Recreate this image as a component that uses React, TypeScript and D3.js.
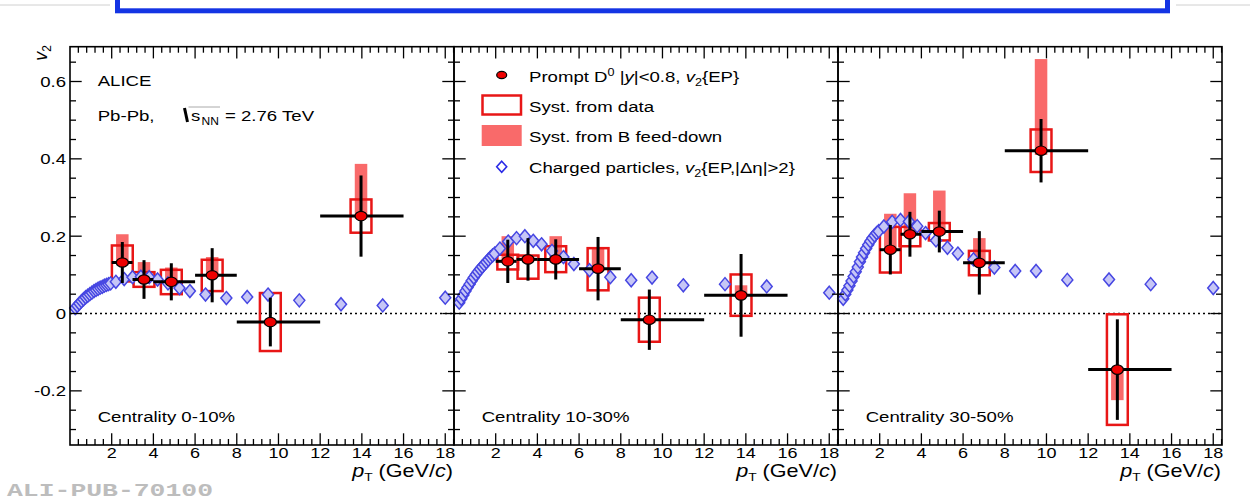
import React from "react";
import * as d3 from "d3";

// ---------------- DATA ----------------
const centralityLabels = ["Centrality 0-10%", "Centrality 10-30%", "Centrality 30-50%"];

const xTickLabels = ["2", "4", "6", "8", "10", "12", "14", "16", "18"];
const yTickLabels = ["-0.2", "0", "0.2", "0.4", "0.6"];

// D0 pT bin edges (same for all centralities)
const d0BinLo = [2, 3, 4, 6, 8, 12];
const d0BinHi = [3, 4, 6, 8, 12, 16];

// 0-10%
const d0Pt_0_10 = [2.51, 3.55, 4.86, 6.82, 9.61, 13.96];
const d0V2_0_10 = [0.132, 0.088, 0.082, 0.099, -0.022, 0.252];
const d0Stat_0_10 = [0.053, 0.05, 0.048, 0.07, 0.063, 0.105];
const d0SystLo_0_10 = [0.083, 0.069, 0.05, 0.058, -0.097, 0.209];
const d0SystHi_0_10 = [0.176, 0.107, 0.113, 0.139, 0.053, 0.295];
const d0FdLo_0_10 = [0.125, 0.085, 0.078, 0.095, -0.03, 0.245];
const d0FdHi_0_10 = [0.205, 0.133, 0.119, 0.146, -0.02, 0.387];

// 10-30%
const d0Pt_10_30 = [2.58, 3.55, 4.88, 6.91, 9.37, 13.77];
const d0V2_10_30 = [0.135, 0.14, 0.14, 0.116, -0.016, 0.047];
const d0Stat_10_30 = [0.056, 0.055, 0.052, 0.082, 0.078, 0.107];
const d0SystLo_10_30 = [0.114, 0.09, 0.107, 0.06, -0.073, -0.006];
const d0SystHi_10_30 = [0.152, 0.15, 0.174, 0.169, 0.041, 0.101];
const d0FdLo_10_30 = [0.13, 0.135, 0.135, 0.11, -0.025, 0.045];
const d0FdHi_10_30 = [0.2, 0.15, 0.2, 0.17, -0.016, 0.073];

// 30-50%
const d0Pt_30_50 = [2.51, 3.45, 4.86, 6.78, 9.74, 13.4];
const d0V2_30_50 = [0.165, 0.205, 0.212, 0.131, 0.421, -0.145];
const d0Stat_30_50 = [0.064, 0.058, 0.054, 0.082, 0.082, 0.13];
const d0SystLo_30_50 = [0.106, 0.174, 0.189, 0.099, 0.366, -0.288];
const d0SystHi_30_50 = [0.224, 0.224, 0.234, 0.162, 0.476, -0.002];
const d0FdLo_30_50 = [0.16, 0.2, 0.205, 0.125, 0.41, -0.224];
const d0FdHi_30_50 = [0.258, 0.311, 0.318, 0.195, 0.658, -0.14];

// Charged particles v2{EP,|Δη|>2}
const chPt = [
  0.25, 0.35, 0.45, 0.55, 0.65, 0.75, 0.85, 0.95, 1.05, 1.15, 1.25, 1.35, 1.45, 1.55, 1.65, 1.75, 1.85, 1.95,
  2.2, 2.6, 3.0, 3.4, 3.8, 4.2, 4.7, 5.25, 5.75, 6.5, 7.5, 8.5, 9.5, 11, 13, 15, 18,
];
const chV2_0_10 = [
  0.014, 0.02, 0.026, 0.032, 0.037, 0.042, 0.046, 0.05, 0.054, 0.058, 0.061, 0.064, 0.067, 0.069, 0.072, 0.074, 0.076, 0.078,
  0.082, 0.089, 0.094, 0.095, 0.094, 0.088, 0.078, 0.066, 0.058, 0.049, 0.04, 0.043, 0.049, 0.034, 0.024, 0.021, 0.041,
];
const chV2_10_30 = [
  0.028, 0.038, 0.048, 0.058, 0.067, 0.076, 0.085, 0.093, 0.101, 0.108, 0.115, 0.121, 0.127, 0.133, 0.139, 0.145, 0.15, 0.155,
  0.168, 0.186, 0.195, 0.2, 0.188, 0.179, 0.162, 0.146, 0.128, 0.112, 0.094, 0.086, 0.093, 0.073, 0.076, 0.07, 0.054,
];
const chV2_30_50 = [
  0.038, 0.05, 0.061, 0.072, 0.084, 0.096, 0.108, 0.12, 0.134, 0.146, 0.157, 0.168, 0.178, 0.187, 0.195, 0.202, 0.208, 0.213,
  0.225, 0.237, 0.242, 0.238, 0.226, 0.208, 0.189, 0.17, 0.155, 0.14, 0.119, 0.11, 0.11, 0.087, 0.088, 0.076, 0.066,
];

// ---------------- LAYOUT / STYLE ----------------
const W = 1250;
const H = 501;
const PANEL_X0 = [70, 454, 838];
const PANEL_W = 384;
const X_MAX = 18.42;
const Y_MIN = -0.34;
const Y_MAX = 0.69;
const Y_BOTTOM = 445;
const Y_TOP = 46.7;
const SX = 1.2;
const FONT = "'Liberation Sans', Arial, Helvetica, sans-serif";
const RED = "#e81616";
const FD_FILL = "#f96a6a";
const DIAMOND_FILL = "#c6c6f6";
const DIAMOND_STROKE = "#4646e2";

const panels = [
  { label: centralityLabels[0], pt: d0Pt_0_10, v2: d0V2_0_10, stat: d0Stat_0_10, sLo: d0SystLo_0_10, sHi: d0SystHi_0_10, fLo: d0FdLo_0_10, fHi: d0FdHi_0_10, ch: chV2_0_10 },
  { label: centralityLabels[1], pt: d0Pt_10_30, v2: d0V2_10_30, stat: d0Stat_10_30, sLo: d0SystLo_10_30, sHi: d0SystHi_10_30, fLo: d0FdLo_10_30, fHi: d0FdHi_10_30, ch: chV2_10_30 },
  { label: centralityLabels[2], pt: d0Pt_30_50, v2: d0V2_30_50, stat: d0Stat_30_50, sLo: d0SystLo_30_50, sHi: d0SystHi_30_50, fLo: d0FdLo_30_50, fHi: d0FdHi_30_50, ch: chV2_30_50 },
];

const yScale = d3.scaleLinear().domain([Y_MIN, Y_MAX]).range([Y_BOTTOM, Y_TOP]);

function Txt({ x, y, anchor = "start", size = 15.5, children, ...rest }: any) {
  return (
    <text
      transform={`translate(${x},${y}) scale(${SX},1)`}
      textAnchor={anchor}
      fontSize={size}
      fontFamily={FONT}
      fill="#000"
      {...rest}
    >
      {children}
    </text>
  );
}

function diamond(cx: number, cy: number, hw = 5.5, hh = 6.5) {
  return `M${cx},${cy - hh}L${cx + hw},${cy}L${cx},${cy + hh}L${cx - hw},${cy}Z`;
}

function Panel({ idx }: { idx: number }) {
  const p = panels[idx];
  const x0 = PANEL_X0[idx];
  const x = d3.scaleLinear().domain([0, X_MAX]).range([x0, x0 + PANEL_W]);
  const y = yScale;

  const xMajor = xTickLabels.map((t) => +t);
  const xMinor = d3.range(0.4, X_MAX, 0.4).filter((v) => Math.abs(v / 2 - Math.round(v / 2)) > 0.01);
  const yMajor = yTickLabels.map((t) => +t);
  const yMinor = d3.range(-0.3, Y_MAX, 0.05).filter((v) => Math.abs(v / 0.2 - Math.round(v / 0.2)) > 0.01);

  const right = x0 + PANEL_W;
  const MAJ = 11.7;
  const MIN = 6;

  return (
    <g>
      {/* zero line */}
      <line x1={x0} x2={right} y1={y(0)} y2={y(0)} stroke="#000" strokeWidth={1.3} strokeDasharray="2 3" />

      {/* feed-down boxes */}
      {p.pt.map((pt, i) => (
        <rect
          key={"fd" + i}
          x={x(pt - 0.3)}
          width={x(pt + 0.3) - x(pt - 0.3)}
          y={y(p.fHi[i])}
          height={y(p.fLo[i]) - y(p.fHi[i])}
          fill={FD_FILL}
        />
      ))}
      {/* syst boxes */}
      {p.pt.map((pt, i) => (
        <rect
          key={"sy" + i}
          x={x(pt - 0.5)}
          width={x(pt + 0.5) - x(pt - 0.5)}
          y={y(p.sHi[i])}
          height={y(p.sLo[i]) - y(p.sHi[i])}
          fill="none"
          stroke={RED}
          strokeWidth={2.5}
        />
      ))}

      {/* charged particles */}
      {chPt.map((pt, i) => (
        <path key={"ch" + i} d={diamond(x(pt), y(p.ch[i]))} fill={DIAMOND_FILL} stroke={DIAMOND_STROKE} strokeWidth={1.5} />
      ))}

      {/* stat error bars */}
      {p.pt.map((pt, i) => (
        <g key={"er" + i} stroke="#000" strokeWidth={3}>
          <line x1={x(pt)} x2={x(pt)} y1={y(p.v2[i] + p.stat[i])} y2={y(p.v2[i] - p.stat[i])} />
          <line x1={x(d0BinLo[i])} x2={x(d0BinHi[i])} y1={y(p.v2[i])} y2={y(p.v2[i])} />
        </g>
      ))}
      {/* D0 markers */}
      {p.pt.map((pt, i) => (
        <ellipse key={"m" + i} cx={x(pt)} cy={y(p.v2[i])} rx={6} ry={4.7} fill="#ee0000" stroke="#000" strokeWidth={1.2} />
      ))}

      {/* frame */}
      <rect x={x0} y={Y_TOP} width={PANEL_W} height={Y_BOTTOM - Y_TOP} fill="none" stroke="#000" strokeWidth={1.6} />

      {/* ticks */}
      <g stroke="#000" strokeWidth={1.3}>
        {xMajor.map((t) => (
          <g key={"xM" + t}>
            <line x1={x(t)} x2={x(t)} y1={Y_BOTTOM} y2={Y_BOTTOM - MAJ} />
            <line x1={x(t)} x2={x(t)} y1={Y_TOP} y2={Y_TOP + MAJ} />
          </g>
        ))}
        {xMinor.map((t) => (
          <g key={"xm" + t}>
            <line x1={x(t)} x2={x(t)} y1={Y_BOTTOM} y2={Y_BOTTOM - MIN} />
            <line x1={x(t)} x2={x(t)} y1={Y_TOP} y2={Y_TOP + MIN} />
          </g>
        ))}
        {yMajor.map((t) => (
          <g key={"yM" + t}>
            <line x1={x0} x2={x0 + MAJ} y1={y(t)} y2={y(t)} />
            <line x1={right} x2={right - MAJ} y1={y(t)} y2={y(t)} />
          </g>
        ))}
        {yMinor.map((t) => (
          <g key={"ym" + t}>
            <line x1={x0} x2={x0 + MIN} y1={y(t)} y2={y(t)} />
            <line x1={right} x2={right - MIN} y1={y(t)} y2={y(t)} />
          </g>
        ))}
      </g>

      {/* x tick labels */}
      {xTickLabels.map((t) => (
        <Txt key={"xl" + t} x={x(+t)} y={457.5} anchor="middle" size={15}>
          {t}
        </Txt>
      ))}

      {/* x axis title */}
      <Txt x={right - 1} y={476.5} anchor="end" size={18}>
        <tspan fontStyle="italic">p</tspan>
        <tspan fontSize={11.5} dy={4}>T</tspan>
        <tspan dy={-4}> (GeV/</tspan>
        <tspan fontStyle="italic">c</tspan>
        <tspan>)</tspan>
      </Txt>

      {/* centrality */}
      <Txt x={x0 + 27.7} y={421.7} size={15.5}>
        {p.label}
      </Txt>
    </g>
  );
}

export default function App() {
  return (
    <svg width={W} height={H} style={{ position: "absolute", left: 0, top: 0, background: "#fff" }}>
      <rect x={0} y={0} width={W} height={H} fill="#fff" />
      {/* header decorations */}
      <line x1={0} x2={110} y1={5} y2={5} stroke="#d0d0d0" strokeWidth={1} />
      <line x1={1176} x2={1250} y1={5} y2={5} stroke="#d0d0d0" strokeWidth={1} />
      <rect x={117.5} y={-20} width={1050} height={30.8} fill="none" stroke="#1434e4" strokeWidth={5} />

      {panels.map((_, i) => (
        <Panel key={i} idx={i} />
      ))}

      {/* y tick labels */}
      {yTickLabels.map((t) => (
        <Txt key={"yl" + t} x={66} y={yScale(+t) + 5.5} anchor="end" size={15.5}>
          {t}
        </Txt>
      ))}

      {/* y axis title */}
      <text transform={`translate(47,45) rotate(-90)`} textAnchor="end" fontSize={18} fontFamily={FONT}>
        <tspan fontStyle="italic">v</tspan>
        <tspan fontSize={12} dy={4}>2</tspan>
      </text>

      {/* ALICE labels */}
      <Txt x={97.7} y={86} size={15.5}>ALICE</Txt>
      <Txt x={97.7} y={120.7} size={15.5}>Pb-Pb,</Txt>
      <line x1={184.5} y1={108} x2={187.5} y2={122} stroke="#000" strokeWidth={3} />
      <line x1={188.5} y1={107} x2={220} y2={107} stroke="#aaa" strokeWidth={1} />
      <Txt x={191} y={120.7} size={15.5}>s</Txt>
      <Txt x={201.5} y={124.5} size={10}>NN</Txt>
      <Txt x={225} y={120.7} size={15.5}>= 2.76 TeV</Txt>

      {/* legend */}
      <ellipse cx={501.7} cy={75} rx={5} ry={3.6} fill="#ee0000" stroke="#000" strokeWidth={1.2} />
      <Txt x={529} y={82.3} size={15.5}>
        <tspan>Prompt D</tspan>
        <tspan fontSize={10.5} dy={-6}>0</tspan>
        <tspan dy={6}> |</tspan>
        <tspan fontStyle="italic">y</tspan>
        <tspan>|&lt;0.8, </tspan>
        <tspan fontStyle="italic">v</tspan>
        <tspan fontSize={10.5} dy={4}>2</tspan>
        <tspan dy={-4}>{"{EP}"}</tspan>
      </Txt>
      <rect x={482.5} y={95.5} width={38.5} height={19} fill="none" stroke={RED} strokeWidth={2.5} />
      <Txt x={529} y={111.7} size={15.5}>Syst. from data</Txt>
      <rect x={481.7} y={125} width={40} height={21} fill={FD_FILL} />
      <Txt x={529} y={141.7} size={15.5}>Syst. from B feed-down</Txt>
      <path d={diamond(501.7, 166.7, 5, 5.5)} fill="#fff" stroke="#2a2ae6" strokeWidth={1.6} />
      <Txt x={529} y={172.7} size={15.5}>
        <tspan>Charged particles, </tspan>
        <tspan fontStyle="italic">v</tspan>
        <tspan fontSize={10.5} dy={4}>2</tspan>
        <tspan dy={-4}>{"{EP,|Δη|>2}"}</tspan>
      </Txt>

      {/* watermark */}
      <text
        x={7}
        y={496}
        fontFamily="'Liberation Mono', 'Courier New', monospace"
        fontWeight="bold"
        fontSize={18}
        fill="#bdbdbd"
        textLength={206}
        lengthAdjust="spacingAndGlyphs"
      >
        ALI-PUB-70100
      </text>
    </svg>
  );
}
